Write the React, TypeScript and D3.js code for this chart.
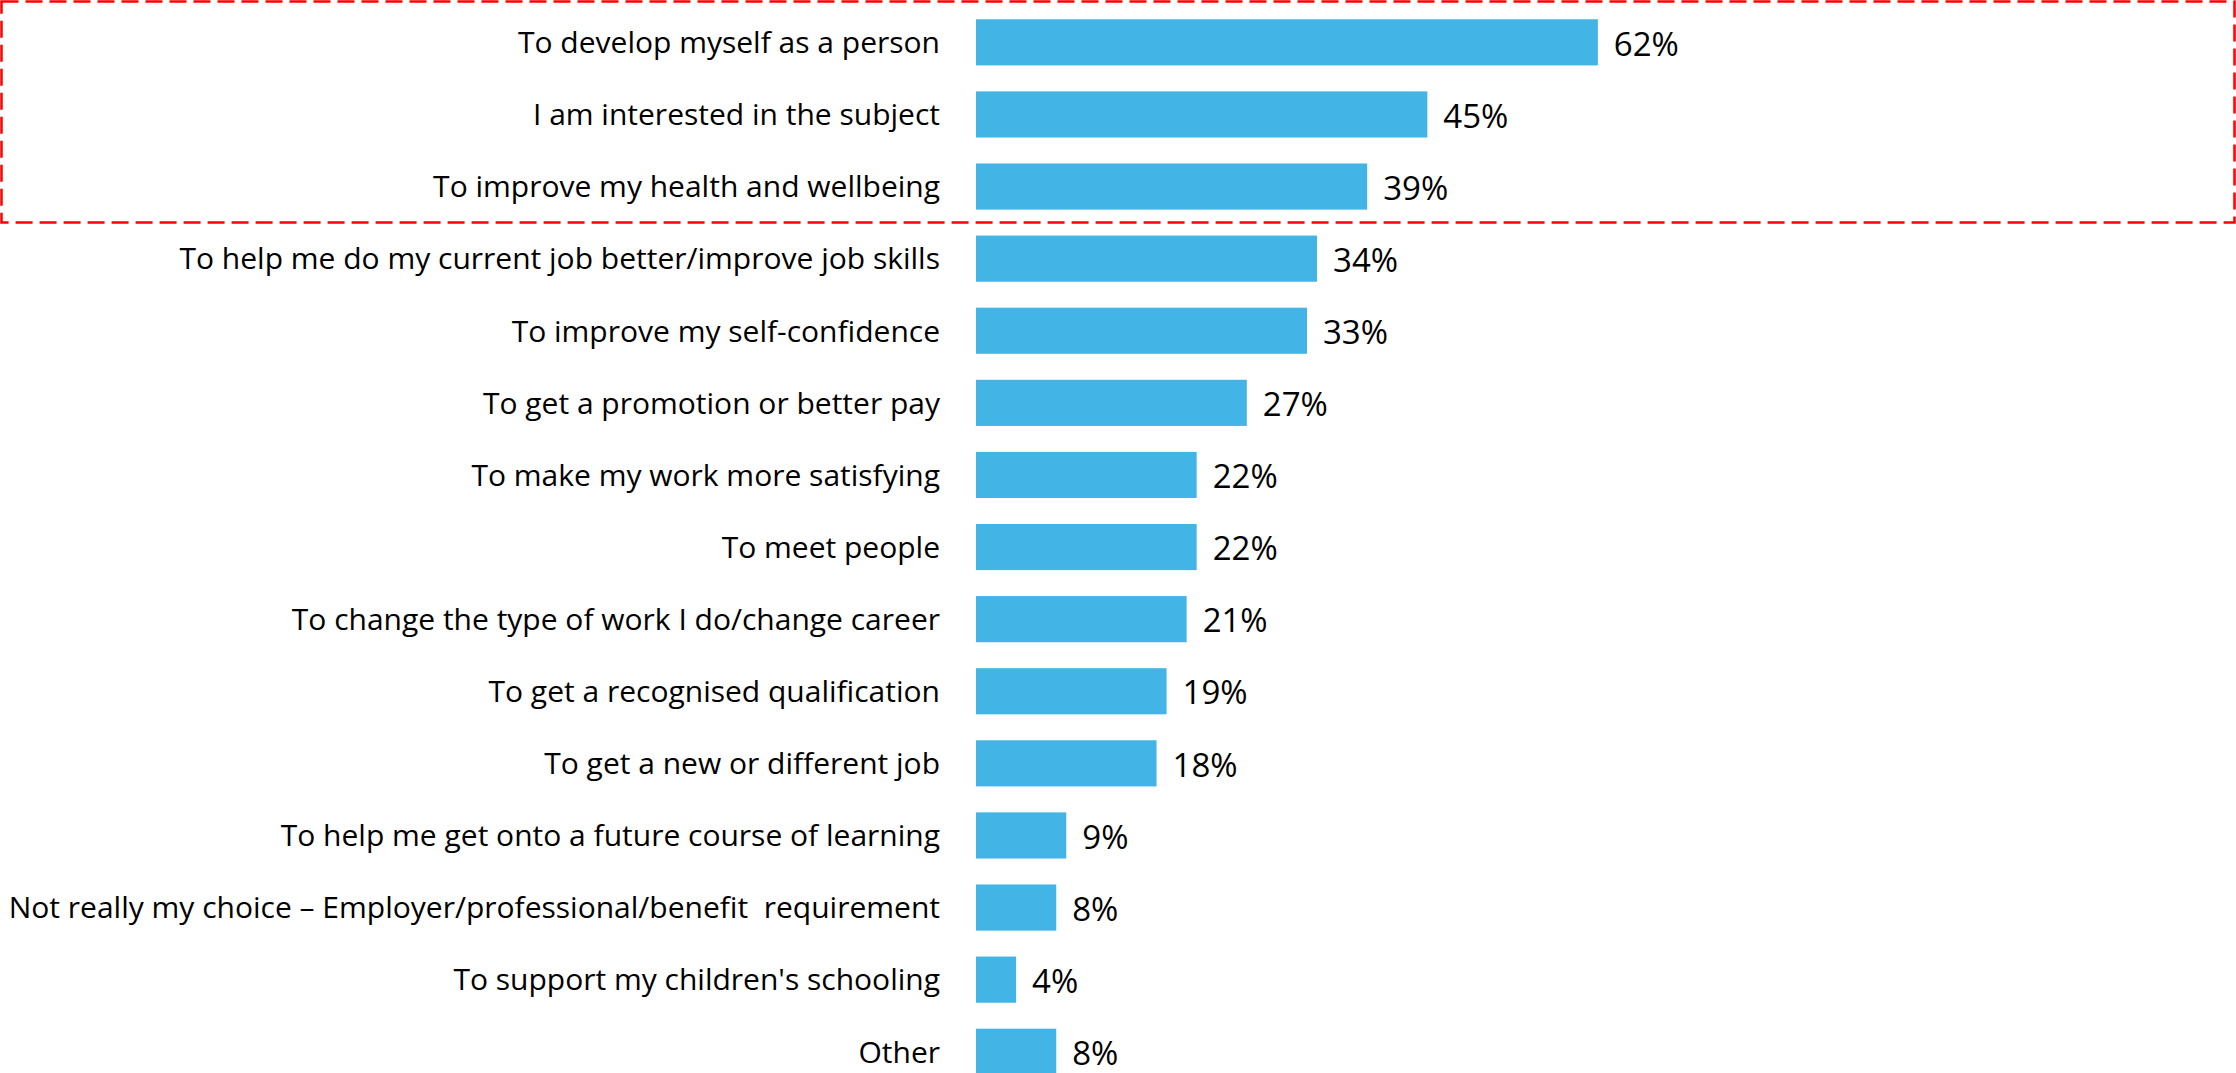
import React, { useEffect, useRef } from 'react';
import * as d3 from 'd3';

const categories = [
  'To develop myself as a person',
  'I am interested in the subject',
  'To improve my health and wellbeing',
  'To help me do my current job better/improve job skills',
  'To improve my self-confidence',
  'To get a promotion or better pay',
  'To make my work more satisfying',
  'To meet people',
  'To change the type of work I do/change career',
  'To get a recognised qualification',
  'To get a new or different job',
  'To help me get onto a future course of learning',
  'Not really my choice \u2013 Employer/professional/benefit  requirement',
  "To support my children's schooling",
  'Other',
];
const values = [0.62, 0.45, 0.39, 0.34, 0.33, 0.27, 0.22, 0.22, 0.21, 0.19, 0.18, 0.09, 0.08, 0.04, 0.08];
// the first rows are boxed in the source
const highlightedRows = 3;

const W = 2236;
const H = 1073;
const FONT = '"Open Sans", "DejaVu Sans", sans-serif';

const App = () => {
  const svgRef = useRef<SVGSVGElement>(null);

  useEffect(() => {
    const svg = d3.select(svgRef.current);
    svg.selectAll('*').remove();

    const data = categories.map((c, i) => ({ label: c, value: values[i] }));

    const x = d3.scaleLinear().domain([0, 1]).range([976, 1979]);
    const y = d3.scaleBand()
      .domain(categories)
      .range([6.3, 6.3 + 15 * 72.1])
      .paddingInner(0.36)
      .paddingOuter(0.18);

    const rows = svg.selectAll('.row')
      .data(data)
      .enter()
      .append('g')
      .attr('class', 'row');

    rows.append('rect')
      .attr('x', x(0))
      .attr('y', d => y(d.label))
      .attr('width', d => x(d.value) - x(0))
      .attr('height', y.bandwidth())
      .attr('fill', '#42B4E6');

    rows.append('text')
      .attr('x', x(0) - 36)
      .attr('y', d => y(d.label) + y.bandwidth() / 2)
      .attr('dy', '0.36em')
      .attr('text-anchor', 'end')
      .style('font-family', FONT)
      .style('font-size', '30px')
      .style('fill', '#000')
      .style('white-space', 'pre')
      .text(d => d.label);

    rows.append('text')
      .attr('x', d => x(d.value) + 16)
      .attr('y', d => y(d.label) + y.bandwidth() / 2)
      .attr('dy', '0.4em')
      .style('font-family', FONT)
      .style('font-size', '33px')
      .style('fill', '#000')
      .text(d => d3.format('.0%')(d.value));

    // dashed box around the top rows
    const last = categories[highlightedRows - 1];
    const boxBottom = y(last) + y.bandwidth() + (y.step() - y.bandwidth()) / 2;
    svg.append('rect')
      .attr('x', 1.5)
      .attr('y', 1.5)
      .attr('width', W - 3)
      .attr('height', boxBottom - 1.5)
      .attr('fill', 'none')
      .attr('stroke', '#FF0000')
      .attr('stroke-width', 2.5)
      .attr('stroke-dasharray', '17 7');
  }, []);

  return (
    <svg
      ref={svgRef}
      width={W}
      height={H}
      style={{ position: 'fixed', left: 0, top: 0, background: '#fff' }}
    />
  );
};

export default App;
